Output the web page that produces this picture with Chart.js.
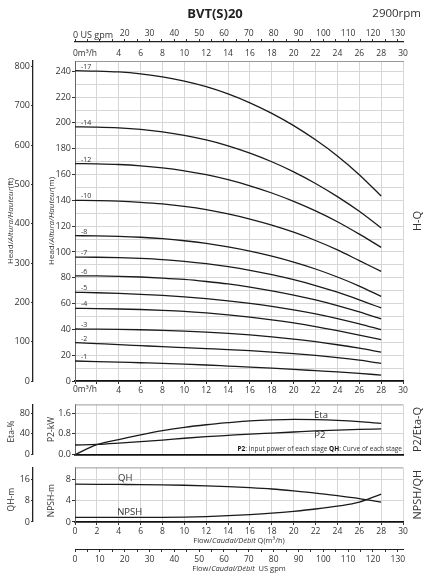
<!DOCTYPE html>
<html>
<head>
<meta charset="utf-8">
<script src="https://cdn.jsdelivr.net/npm/chart.js@4.4.1/dist/chart.umd.min.js"></script>
<style>
   html, body { margin: 0; padding: 0; background: #fff; }
   #wrap { position: relative; width: 430px; height: 580px; overflow: hidden; }
   canvas { position: absolute; left: 0; }
</style>
</head>
<body>
<div id="wrap">
   <canvas id="chart__hq" width="430" height="398" style="top:0px"></canvas>
   <canvas id="chart__eta" width="430" height="63" style="top:398px"></canvas>
   <canvas id="chart__npsh" width="430" height="119" style="top:461px"></canvas>
</div>
<script>
// DATA

// flow points (m3/h)
const flowQ = [0, 2, 4, 6, 8, 10, 12, 14, 16, 18, 20, 22, 24, 26, 28];

// H-Q curves (m), one per number of stages
const stages = [17, 14, 12, 10, 8, 7, 6, 5, 4, 3, 2, 1];
const head17 = [240.5, 240.2, 239.5, 238.0, 235.7, 232.4, 228.1, 222.5, 215.6, 207.4, 197.9, 186.9, 174.4, 159.9, 143.4];
const head14 = [197, 196.8, 196.2, 195, 193.1, 190.4, 186.8, 182.3, 176.6, 169.9, 162.1, 153.1, 142.9, 131.5, 118.6];
const head12 = [168.5, 168.3, 167.8, 166.8, 165.2, 162.9, 159.9, 156, 151.3, 145.7, 139.2, 131.8, 123.4, 113.8, 103.6];
const head10 = [140, 139.8, 139.4, 138.5, 137.2, 135.3, 132.8, 129.5, 125.5, 120.8, 115.3, 108.9, 101.6, 93.3, 85];
const head8 = [112.6, 112.5, 112.1, 111.4, 110.3, 108.7, 106.6, 103.9, 100.6, 96.7, 92.1, 86.8, 80.6, 73.6, 65.6];
const head7 = [96, 95.9, 95.6, 95, 94.1, 92.7, 90.9, 88.6, 85.8, 82.4, 78.5, 74, 68.8, 62.9, 56.6];
const head6 = [81.5, 81.4, 81.1, 80.6, 79.8, 78.7, 77.1, 75.2, 72.8, 69.9, 66.6, 62.8, 58.4, 53.5, 48.1];
const head5 = [68.7, 68.4, 67.9, 67.2, 66.3, 65.2, 63.8, 62.1, 60.1, 57.8, 55.1, 52.0, 48.4, 44.3, 39.8];
const head4 = [56.3, 56.1, 55.8, 55.4, 54.8, 54.0, 52.8, 51.3, 49.5, 47.4, 45.0, 42.2, 39.0, 35.6, 32.1];
const head3 = [40.3, 40.2, 40.0, 39.7, 39.3, 38.7, 37.9, 36.9, 35.7, 34.2, 32.5, 30.5, 28.1, 25.4, 22.3];
const head2 = [29.7, 28.95, 28.2, 27.4, 26.6, 25.85, 25.1, 24.35, 23.5, 22.45, 21.25, 19.8, 18.1, 16.1, 13.7];
const head1 = [15.5, 15.05, 14.6, 14.15, 13.7, 13.1, 12.4, 11.6, 10.8, 9.95, 9.0, 8.0, 7.0, 5.85, 4.6];
const headCurves = [head17, head14, head12, head10, head8, head7, head6, head5, head4, head3, head2, head1];

// efficiency (%) and input power per stage (kW)
const etaPct = [0, 19, 29, 38, 46, 52.5, 57.5, 61.5, 65, 67, 68, 67.5, 66, 63.5, 60];
const p2Kw = [0.37, 0.39, 0.44, 0.5, 0.56, 0.63, 0.69, 0.74, 0.79, 0.83, 0.87, 0.91, 0.94, 0.97, 0.99];

// head of one stage (m) and NPSH (m)
const qhM = [14.1, 14.05, 14, 13.95, 13.85, 13.7, 13.5, 13.2, 12.8, 12.3, 11.6, 10.8, 9.8, 8.7, 7.4];
const npshM = [0.85, 0.85, 0.85, 0.85, 0.87, 0.92, 1.02, 1.17, 1.38, 1.65, 2.0, 2.42, 2.95, 3.7, 5.2];

// tick labels of the small panels
const p2Ticks = [0, 0.4, 0.8, 1.2, 1.6];
const etaTicks = [0, 20, 40, 60, 80];
const npshTicks = [0, 2, 4, 6, 8];
const qhTicks = [0, 4, 8, 12, 16];

// unit conversions
const M_TO_FT = 3.2808;
const M3H_TO_GPM = 4.4029;

// axis ranges
const Q_MAX = 30;
const HEAD_MAX = 248;
const P2_MAX = 1.933;
const NPSH_MAX = 10.18;

// STYLE
const FONT = "'Open Sans', sans-serif";
const TXT = "#333";
const GRID = "#d6d6d6";
const LINE = "#1a1a1a";
Chart.defaults.font.family = FONT;
Chart.defaults.font.size = 9;
Chart.defaults.color = TXT;

// FONCTIONS
function pts(values) {
   return flowQ.map((q, i) => ({ x: q, y: values[i] }));
}

function curve(values, axisId) {
   return {
      data: pts(values),
      yAxisID: axisId || "y",
      borderColor: LINE,
      borderWidth: 1.3,
      pointRadius: 0,
      fill: false,
      tension: 0.4,
      cubicInterpolationMode: "monotone",
   };
}

function drawSegs(ctx, segs, x, y, align, rot) {
   ctx.save();
   ctx.translate(x, y);
   if (rot) ctx.rotate(rot);
   ctx.textBaseline = "middle";
   ctx.textAlign = "left";
   let total = 0;
   segs.forEach((s) => {
      ctx.font = s.font;
      total += ctx.measureText(s.text).width;
   });
   let cx = align === "center" ? -total / 2 : align === "right" ? -total : 0;
   segs.forEach((s) => {
      ctx.font = s.font;
      ctx.fillStyle = s.color || TXT;
      ctx.fillText(s.text, cx, 0);
      cx += ctx.measureText(s.text).width;
   });
   ctx.restore();
}

function f(size, style) {
   return (style ? style + " " : "") + size + "px " + FONT;
}

function headTitle(unit) {
   return [
      { text: "Head/", font: f(8) },
      { text: "Altura/Hauteur", font: f(8, "italic") },
      { text: "(" + unit + ")", font: f(8) },
   ];
}

function flowTitle(unit) {
   return [
      { text: "Flow/", font: f(7.5) },
      { text: "Caudal/Débit", font: f(7.5, "italic") },
      { text: unit, font: f(7.5) },
   ];
}

// top line of a panel
const topFrame = {
   id: "topFrame",
   beforeDatasetsDraw(chart) {
      const a = chart.chartArea, ctx = chart.ctx;
      ctx.save();
      ctx.strokeStyle = "#999";
      ctx.lineWidth = 1;
      ctx.beginPath();
      ctx.moveTo(a.left, a.top + 0.5);
      ctx.lineTo(a.right, a.top + 0.5);
      ctx.stroke();
      ctx.restore();
   },
};

const leftW = (w) => (s) => { s.width = w; };
const fixH = (h) => (s) => { s.height = h; };

// CHART 1 -> H-Q
const hqText = {
   id: "hqText",
   afterDraw(chart) {
      const ctx = chart.ctx, a = chart.chartArea;
      const sx = chart.scales.x, sy = chart.scales.y;
      const mid = (a.top + a.bottom) / 2;
      drawSegs(ctx, [{ text: "2900rpm", font: f(11.5) }], 421, 14, "right", 0);
      drawSegs(ctx, [{ text: "0 US gpm", font: f(9) }], a.left - 2, 35, "left", 0);
      drawSegs(ctx, [{ text: "0m³/h", font: f(8.5) }], a.left - 2, 54, "left", 0);
      drawSegs(ctx, [{ text: "0m³/h", font: f(8.5) }], a.left - 2, a.bottom + 9, "left", 0);
      drawSegs(ctx, [{ text: "H-Q", font: f(11) }], 418, mid, "center", -Math.PI / 2);
      drawSegs(ctx, headTitle("ft"), 11, mid, "center", -Math.PI / 2);
      drawSegs(ctx, headTitle("m"), 52, mid, "center", -Math.PI / 2);
      // stage labels
      stages.forEach((n, i) => {
         const y = sy.getPixelForValue(headCurves[i][0]) - 4;
         drawSegs(ctx, [{ text: "-" + n, font: f(7) }], sx.getPixelForValue(0.55), y, "left", 0);
      });
   },
};

window.chart1 = new Chart(document.getElementById("chart__hq"), {
   type: "line",
   data: { datasets: headCurves.map((h) => curve(h)) },
   options: {
      responsive: false,
      animation: false,
      layout: { padding: 0 },
      plugins: {
         legend: { display: false },
         tooltip: { enabled: false },
         title: {
            display: true,
            text: "BVT(S)20",
            color: "#222",
            font: { size: 13, weight: "bold" },
            padding: { top: 6, bottom: 4 },
         },
      },
      scales: {
         x: {
            type: "linear", position: "bottom", min: 0, max: Q_MAX, weight: 0,
            ticks: {
               stepSize: 2, autoSkip: false, maxRotation: 0, padding: 1,
               font: { size: 8.5 },
               callback: (v) => (v === 0 || v === 2 ? "" : v),
            },
            grid: { color: GRID, tickColor: "#333", tickLength: 3 },
            border: { color: "#111", width: 1.8 },
            afterFit: fixH(17),
         },
         xTop: {
            type: "linear", position: "top", min: 0, max: Q_MAX, weight: 0,
            ticks: {
               stepSize: 2, autoSkip: false, maxRotation: 0, padding: 2,
               font: { size: 8.5 },
               callback: (v) => (v === 0 || v === 2 ? "" : v),
            },
            grid: { display: false, drawTicks: false },
            border: { color: "#999", width: 1 },
            afterFit: fixH(19),
         },
         xGpm: {
            type: "linear", position: "top", min: 0, max: Q_MAX * M3H_TO_GPM, weight: 1,
            ticks: {
               stepSize: 5, autoSkip: false, maxRotation: 0, padding: 0, includeBounds: false,
               font: { size: 8.5 },
               callback: (v) => (v % 10 === 0 && v >= 20 ? v : ""),
            },
            grid: { drawOnChartArea: false, tickColor: "#333", tickLength: 3 },
            border: { color: "#222", width: 1.2 },
            afterFit: fixH(16.4),
         },
         y: {
            type: "linear", position: "left", min: 0, max: HEAD_MAX, weight: 0,
            ticks: {
               stepSize: 10, includeBounds: false, autoSkip: false, padding: 1,
               callback: (v) => (v % 20 === 0 ? v : ""),
            },
            grid: {
               color: GRID,
               tickLength: 3,
               tickColor: (c) => (c.tick && c.tick.value % 20 === 0 ? "#333" : "rgba(0,0,0,0)"),
            },
            border: { color: "#666", width: 1 },
            afterFit: leftW(42),
         },
         yFt: {
            type: "linear", position: "left", min: 0, max: HEAD_MAX * M_TO_FT, weight: 1,
            ticks: { stepSize: 100, includeBounds: false, autoSkip: false, padding: 1 },
            grid: { drawOnChartArea: false, tickColor: "#333", tickLength: 2 },
            border: { color: "#222", width: 1.3 },
            afterFit: leftW(33),
         },
         yRight: {
            type: "linear", position: "right", min: 0, max: 1,
            ticks: { display: false },
            grid: { display: false, drawTicks: false },
            border: { display: false },
            afterFit: leftW(27),
         },
      },
   },
   plugins: [hqText],
});

// CHART 2 -> P2 / Eta
const etaText = {
   id: "etaText",
   afterDraw(chart) {
      const ctx = chart.ctx, a = chart.chartArea;
      const sx = chart.scales.x, sp = chart.scales.y, se = chart.scales.yEta;
      const mid = (a.top + a.bottom) / 2;
      drawSegs(ctx, [{ text: "P2/Eta-Q", font: f(11) }], 418, mid, "center", -Math.PI / 2);
      drawSegs(ctx, [{ text: "Eta-%", font: f(8.5) }], 12, mid + 2, "center", -Math.PI / 2);
      drawSegs(ctx, [{ text: "P2-kW", font: f(8.5) }], 52, mid, "center", -Math.PI / 2);
      drawSegs(ctx, [{ text: "Eta", font: f(9.5) }], sx.getPixelForValue(22.5), se.getPixelForValue(75), "center", 0);
      drawSegs(ctx, [{ text: "P2", font: f(9.5) }], sx.getPixelForValue(22.4), sp.getPixelForValue(0.73), "center", 0);
      drawSegs(ctx, [
         { text: "P2", font: f(6.5, "bold"), color: "#111" },
         { text: ": Input power of each stage ", font: f(6.5) },
         { text: "QH", font: f(6.5, "bold"), color: "#111" },
         { text: ": Curve of each stage", font: f(6.5) },
      ], a.right - 1, a.bottom - 5, "right", 0);
   },
};

window.chart2 = new Chart(document.getElementById("chart__eta"), {
   type: "line",
   data: { datasets: [curve(etaPct, "yEta"), curve(p2Kw, "y")] },
   options: {
      responsive: false,
      animation: false,
      layout: { padding: { top: 3 } },
      plugins: { legend: { display: false }, tooltip: { enabled: false } },
      scales: {
         x: {
            type: "linear", position: "bottom", min: 0, max: Q_MAX,
            ticks: { display: false, stepSize: 2 },
            grid: { color: GRID, drawTicks: false },
            border: { color: "#111", width: 1.8 },
            afterFit: fixH(2),
         },
         y: {
            type: "linear", position: "left", min: 0, max: P2_MAX, weight: 0,
            afterBuildTicks: (s) => { s.ticks = p2Ticks.map((v) => ({ value: v })); },
            ticks: { padding: 1, callback: (v) => v.toFixed(1) },
            grid: { color: GRID, tickColor: "#333", tickLength: 3 },
            border: { color: "#666", width: 1 },
            afterFit: leftW(42),
         },
         yEta: {
            type: "linear", position: "left", min: 0, max: P2_MAX * 50, weight: 1,
            afterBuildTicks: (s) => { s.ticks = etaTicks.map((v) => ({ value: v })); },
            ticks: { padding: 1 },
            grid: { drawOnChartArea: false, tickColor: "#333", tickLength: 2 },
            border: { color: "#222", width: 1.3 },
            afterFit: leftW(33),
         },
         yRight: {
            type: "linear", position: "right", min: 0, max: 1,
            ticks: { display: false },
            grid: { display: false, drawTicks: false },
            border: { display: false },
            afterFit: leftW(27),
         },
      },
   },
   plugins: [topFrame, etaText],
});

// CHART 3 -> NPSH / QH
const npshText = {
   id: "npshText",
   afterDraw(chart) {
      const ctx = chart.ctx, a = chart.chartArea;
      const sx = chart.scales.x, sn = chart.scales.y, sq = chart.scales.yQH;
      const mid = (a.top + a.bottom) / 2;
      drawSegs(ctx, [{ text: "NPSH/QH", font: f(11) }], 418, mid, "center", -Math.PI / 2);
      drawSegs(ctx, [{ text: "QH-m", font: f(8.5) }], 12, mid + 5, "center", -Math.PI / 2);
      drawSegs(ctx, [{ text: "NPSH-m", font: f(8.5) }], 52, mid + 6, "center", -Math.PI / 2);
      drawSegs(ctx, [{ text: "QH", font: f(9.5) }], sx.getPixelForValue(4.6), sq.getPixelForValue(16.2), "center", 0);
      drawSegs(ctx, [{ text: "NPSH", font: f(9.5) }], sx.getPixelForValue(5.0), sn.getPixelForValue(1.85), "center", 0);
      drawSegs(ctx, flowTitle(" Q(m³/h)"), (a.left + a.right) / 2, a.bottom + 19, "center", 0);
      drawSegs(ctx, flowTitle("  US gpm"), (a.left + a.right) / 2, a.bottom + 46.5, "center", 0);
   },
};

window.chart3 = new Chart(document.getElementById("chart__npsh"), {
   type: "line",
   data: { datasets: [curve(qhM, "yQH"), curve(npshM, "y")] },
   options: {
      responsive: false,
      animation: false,
      layout: { padding: { top: 5 } },
      plugins: { legend: { display: false }, tooltip: { enabled: false } },
      scales: {
         x: {
            type: "linear", position: "bottom", min: 0, max: Q_MAX, weight: 0,
            ticks: { stepSize: 2, autoSkip: false, maxRotation: 0, padding: 1, font: { size: 8.5 } },
            grid: { color: GRID, tickColor: "#333", tickLength: 3 },
            border: { color: "#111", width: 1.8 },
            afterFit: fixH(27),
         },
         xGpm: {
            type: "linear", position: "bottom", min: 0, max: Q_MAX * M3H_TO_GPM, weight: 1,
            ticks: {
               stepSize: 5, autoSkip: false, maxRotation: 0, padding: 2, includeBounds: false,
               font: { size: 8.5 },
               callback: (v) => (v % 10 === 0 ? v : ""),
            },
            grid: { drawOnChartArea: false, tickColor: "#333", tickLength: 3 },
            border: { color: "#222", width: 1 },
            afterFit: fixH(31),
         },
         y: {
            type: "linear", position: "left", min: 0, max: NPSH_MAX, weight: 0,
            afterBuildTicks: (s) => { s.ticks = npshTicks.map((v) => ({ value: v })); },
            ticks: { padding: 1 },
            grid: { color: GRID, tickColor: "#333", tickLength: 3 },
            border: { color: "#666", width: 1 },
            afterFit: leftW(42),
         },
         yQH: {
            type: "linear", position: "left", min: 0, max: NPSH_MAX * 2, weight: 1,
            afterBuildTicks: (s) => { s.ticks = qhTicks.map((v) => ({ value: v })); },
            ticks: { padding: 1 },
            grid: { drawOnChartArea: false, tickColor: "#333", tickLength: 2 },
            border: { color: "#222", width: 1.3 },
            afterFit: leftW(33),
         },
         yRight: {
            type: "linear", position: "right", min: 0, max: 1,
            ticks: { display: false },
            grid: { display: false, drawTicks: false },
            border: { display: false },
            afterFit: leftW(27),
         },
      },
   },
   plugins: [topFrame, npshText],
});
</script>
</body>
</html>
